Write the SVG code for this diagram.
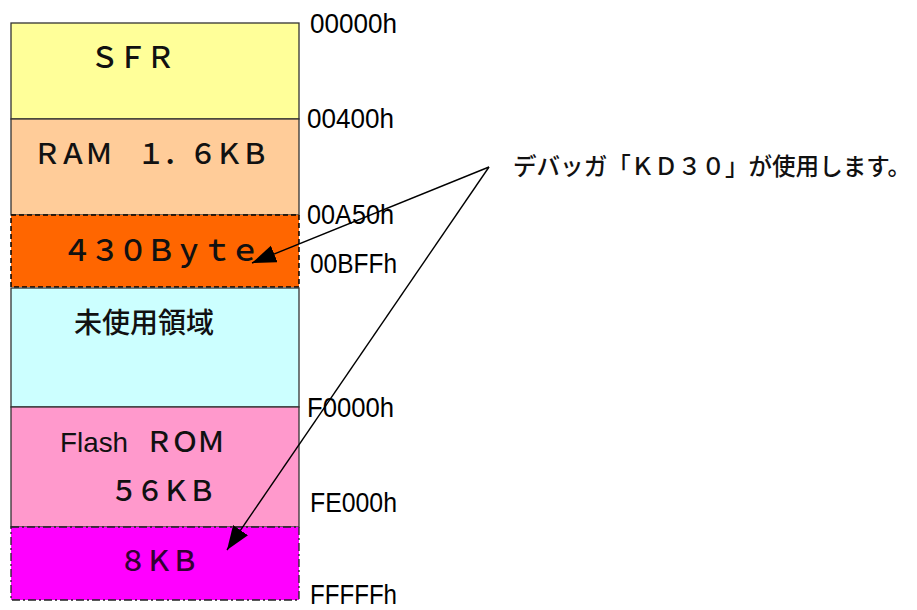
<svg xmlns="http://www.w3.org/2000/svg" width="917" height="610" viewBox="0 0 917 610">
<style>
.box{stroke:#333;stroke-width:1.3}
.jp{font-family:"Noto Sans CJK JP","Liberation Sans",sans-serif;fill:#111;font-weight:500}
.addr{font-family:"Liberation Sans","DejaVu Sans",sans-serif;font-size:28px;fill:#000}
.conn{stroke:#000;stroke-width:1.4;fill:none}
</style>
<defs>
<marker id="ah" markerUnits="userSpaceOnUse" markerWidth="26" markerHeight="20" refX="24" refY="9" orient="auto">
<path d="M0,0 L24,9 L0,18 Z" fill="#000"/>
</marker>
</defs>
<rect width="917" height="610" fill="#fff"/>
<g id="sfr">
<rect class="box" x="11" y="23" width="288" height="96" fill="#FFFF99"/>
<text class="jp" x="90" y="68" font-size="29" letter-spacing="-1">ＳＦＲ</text>
</g>
<g id="ram">
<rect class="box" x="11" y="119" width="288" height="96" fill="#FFCC99"/>
<text class="jp" x="33" y="164" font-size="28" letter-spacing="-2">ＲＡＭ　１．６ＫＢ</text>
</g>
<g id="kd30area">
<rect x="11" y="215" width="288" height="72" fill="#FF6600" stroke="#000" stroke-width="1.5" stroke-dasharray="5,3"/>
<text class="jp" x="62" y="261" font-size="30" letter-spacing="-2">４３０Ｂｙｔｅ</text>
</g>
<g id="unused">
<rect class="box" x="11" y="288" width="288" height="119" fill="#CCFFFF"/>
<text class="jp" x="74" y="333" font-size="28">未使用領域</text>
</g>
<g id="flash">
<rect class="box" x="11" y="407" width="288" height="120" fill="#FF99CC"/>
<text class="jp" x="60" y="452" font-size="28"><tspan font-family="Liberation Sans,sans-serif" font-weight="normal" textLength="68" lengthAdjust="spacingAndGlyphs" font-size="28">Flash</tspan><tspan x="145" letter-spacing="-2">ＲＯＭ</tspan></text>
<text class="jp" x="110" y="501" font-size="28" letter-spacing="-2">５６ＫＢ</text>
</g>
<g id="kb8">
<rect x="11" y="527" width="288" height="73" fill="#FF00FF" stroke="#222" stroke-width="1.3" stroke-dasharray="8,3,2,3"/>
<text class="jp" x="119" y="571" font-size="28" letter-spacing="-2" style="fill:#330033">８ＫＢ</text>
</g>
<g id="addresses">
<text class="addr" x="310" y="33" textLength="87" lengthAdjust="spacingAndGlyphs">00000h</text>
<text class="addr" x="307" y="128" textLength="87" lengthAdjust="spacingAndGlyphs">00400h</text>
<text class="addr" x="307" y="224" textLength="87" lengthAdjust="spacingAndGlyphs">00A50h</text>
<text class="addr" x="310" y="273" textLength="87" lengthAdjust="spacingAndGlyphs">00BFFh</text>
<text class="addr" x="307" y="417" textLength="87" lengthAdjust="spacingAndGlyphs">F0000h</text>
<text class="addr" x="310" y="512" textLength="87" lengthAdjust="spacingAndGlyphs">FE000h</text>
<text class="addr" x="310" y="604" textLength="87" lengthAdjust="spacingAndGlyphs">FFFFFh</text>
</g>
<g id="callout">
<text class="jp" x="513" y="175" font-size="24" textLength="398" lengthAdjust="spacingAndGlyphs">デバッガ「ＫＤ３０」が使用します。</text>
</g>
<g id="connectors">
<line class="conn" x1="489" y1="167" x2="252" y2="263" marker-end="url(#ah)"/>
<line class="conn" x1="489" y1="167" x2="227" y2="550" marker-end="url(#ah)"/>
</g>
</svg>
